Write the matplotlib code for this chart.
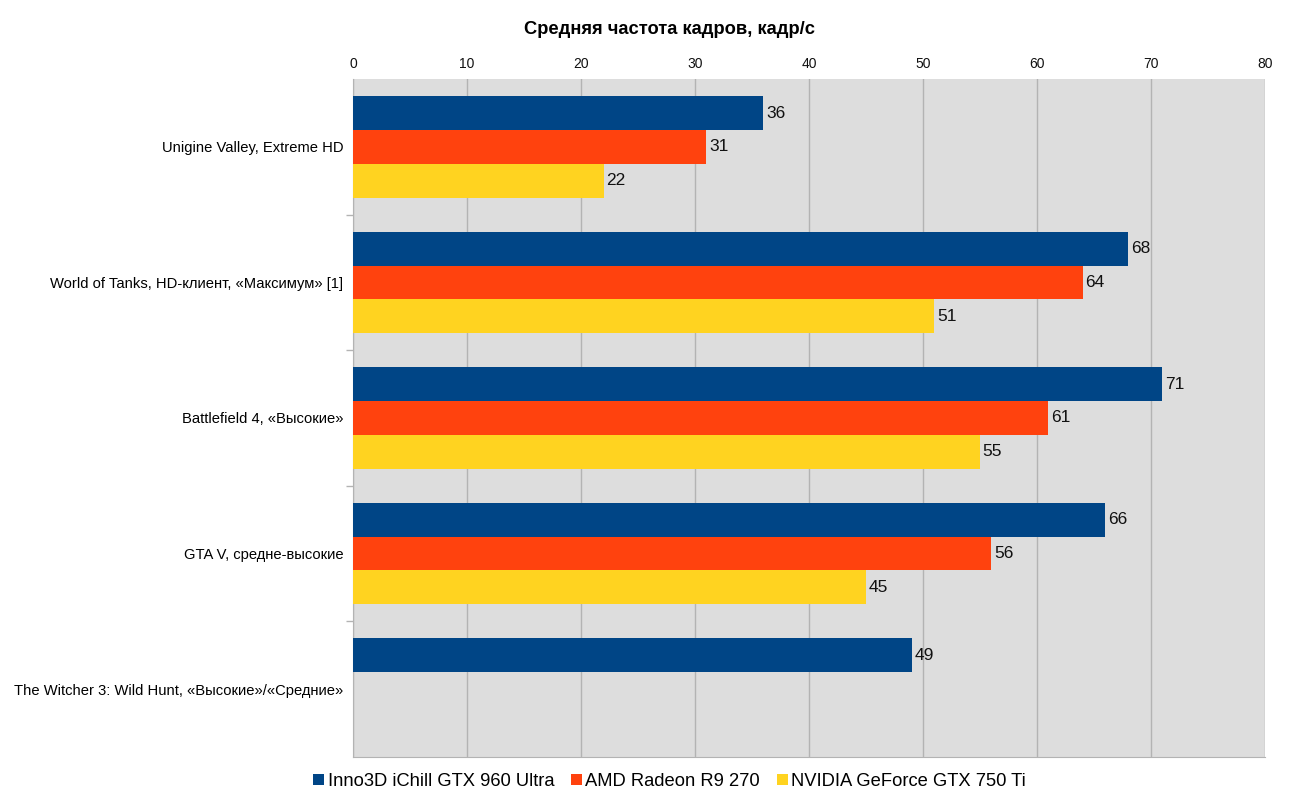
import numpy as np
import matplotlib.pyplot as plt
from matplotlib.patches import Patch

plt.rcParams['font.family'] = ['Liberation Sans', 'DejaVu Sans']

# data
categories = [
    "Unigine Valley, Extreme HD",
    "World of Tanks, HD-клиент, «Максимум» [1]",
    "Battlefield 4, «Высокие»",
    "GTA V, средне-высокие",
    "The Witcher 3: Wild Hunt, «Высокие»/«Средние»",
]
series_names = ["Inno3D iChill GTX 960 Ultra", "AMD Radeon R9 270", "NVIDIA GeForce GTX 750 Ti"]
gtx960 = [36, 68, 71, 66, 49]
r9_270 = [31, 64, 61, 56, np.nan]
gtx750ti = [22, 51, 55, 45, np.nan]
colors = ["#004586", "#ff420e", "#ffd320"]

fig = plt.figure(figsize=(13, 8), dpi=100)
ax = fig.add_axes([0.2715, 0.054, 0.7015, 0.847])
ax.set_facecolor("#dddddd")

y = np.arange(len(categories))
h = 0.25
for k, (vals, col) in enumerate(zip([gtx960, r9_270, gtx750ti], colors)):
    pos = y - h + k * h
    for yi, v in zip(pos, vals):
        if np.isnan(v):
            continue
        ax.barh(yi, v, height=h, color=col, zorder=3)
        ax.text(v + 0.25, yi, f"{v:g}", va="center", ha="left", fontsize=12.5, color="#111111", zorder=4)

ax.set_xlim(0, 80)
ax.set_ylim(len(categories) - 0.5, -0.5)
ax.set_xticks(range(0, 81, 10))
ax.xaxis.tick_top()
ax.tick_params(axis="x", length=0, pad=6, labelsize=10, colors="#111111")
ax.grid(axis="x", color="#b3b3b3", linewidth=1, zorder=0)

ax.set_yticks(y)
ax.set_yticklabels(categories, fontsize=10.6)
ax.tick_params(axis="y", length=0, pad=7)
ax.set_yticks(np.arange(0.5, len(categories) - 0.5, 1), minor=True)
ax.tick_params(axis="y", which="minor", length=5, color="#b3b3b3", width=1)

for s in ["top", "right"]:
    ax.spines[s].set_visible(False)
ax.spines["left"].set_color("#b3b3b3")
ax.spines["bottom"].set_color("#b3b3b3")

fig.text(0.515, 0.963, "Средняя частота кадров, кадр/с", ha="center", va="center",
         fontsize=13.2, fontweight="bold")

handles = [Patch(facecolor=c, edgecolor="none") for c in colors]
fig.legend(handles, series_names, loc="center", bbox_to_anchor=(0.515, 0.023), ncol=3,
           frameon=False, fontsize=13.2, handlelength=0.6, handleheight=0.6,
           handletextpad=0.2, columnspacing=0.9)

fig.savefig("out.png", dpi=100)
